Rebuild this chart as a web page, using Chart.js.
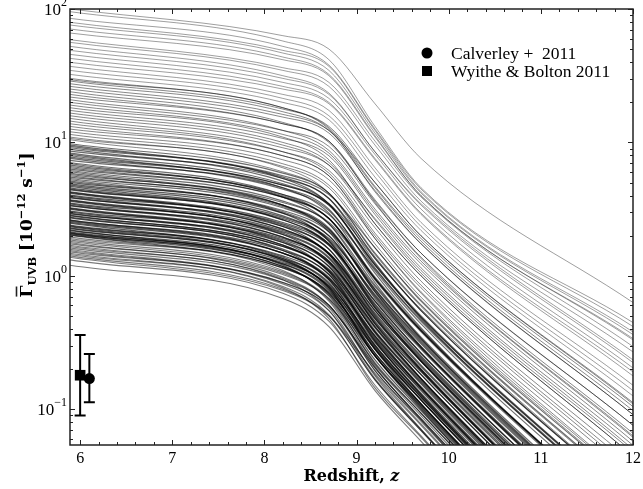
<!DOCTYPE html>
<html>
<head>
<meta charset="utf-8">
<script src="https://cdn.jsdelivr.net/npm/chart.js@4.4.0/dist/chart.umd.min.js"></script>
<style>
  html, body { margin: 0; padding: 0; background: #fff; }
  #wrap { width: 643px; height: 489px; }
</style>
</head>
<body>
<div id="wrap"><canvas id="gammaChart" width="643" height="489"></canvas></div>
<script>
// redshift knots shared by every model curve
var zKnots = [5.89, 8.2, 8.7, 9.2, 9.7, 12.0];

// log10 of Gamma_UVB [1e-12 s^-1] at the knots, one row per model
var logGammaTail = [
  [2.00, 1.80, 1.70, 1.29, 0.88, -0.20],
  [1.98, 1.76, 1.62, 1.12, 0.66, -0.35],
  [1.93, 1.72, 1.58, 1.10, 0.65, -0.38],
  [1.90, 1.69, 1.57, 1.09, 0.63, -0.42],
  [1.88, 1.67, 1.54, 1.07, 0.62, -0.44],
  [1.85, 1.64, 1.51, 1.05, 0.60, -0.47],
  [1.82, 1.62, 1.50, 1.04, 0.60, -0.48],
  [1.77, 1.56, 1.45, 1.01, 0.59, -0.53],
  [1.75, 1.54, 1.42, 0.98, 0.56, -0.57],
  [1.72, 1.50, 1.37, 0.93, 0.54, -0.63],
  [1.69, 1.48, 1.36, 0.93, 0.53, -0.65],
  [1.66, 1.45, 1.33, 0.91, 0.50, -0.69],
  [1.63, 1.42, 1.30, 0.88, 0.47, -0.72],
  [1.60, 1.40, 1.29, 0.87, 0.46, -0.75],
  [1.57, 1.36, 1.24, 0.81, 0.40, -0.82],
  [1.54, 1.33, 1.20, 0.78, 0.37, -0.86],
  [1.51, 1.30, 1.17, 0.74, 0.34, -0.90]
];
var logGammaUpper = [
  [1.48, 1.26, 1.11, 0.67, 0.28, -0.98],
  [1.47, 1.26, 1.10, 0.63, 0.24, -1.04],
  [1.46, 1.25, 1.12, 0.70, 0.30, -0.95],
  [1.44, 1.23, 1.09, 0.66, 0.26, -1.01],
  [1.42, 1.21, 1.09, 0.70, 0.30, -0.96],
  [1.40, 1.19, 1.07, 0.64, 0.24, -1.04],
  [1.38, 1.15, 1.00, 0.56, 0.17, -1.12],
  [1.36, 1.14, 1.01, 0.57, 0.17, -1.12],
  [1.34, 1.14, 1.01, 0.55, 0.13, -1.20],
  [1.32, 1.09, 0.94, 0.50, 0.11, -1.21],
  [1.30, 1.09, 0.97, 0.54, 0.14, -1.18],
  [1.28, 1.06, 0.92, 0.48, 0.09, -1.24],
  [1.26, 1.04, 0.87, 0.39, 0.00, -1.35],
  [1.24, 1.03, 0.90, 0.46, 0.06, -1.27],
  [1.22, 1.00, 0.85, 0.42, 0.02, -1.32],
  [1.20, 0.98, 0.83, 0.39, 0.00, -1.35],
  [1.18, 0.96, 0.83, 0.43, 0.04, -1.30],
  [1.16, 0.93, 0.77, 0.32, -0.07, -1.44],
  [1.14, 0.93, 0.79, 0.36, -0.04, -1.40],
  [1.12, 0.90, 0.75, 0.30, -0.09, -1.47],
  [1.10, 0.90, 0.75, 0.28, -0.13, -1.55],
  [1.08, 0.87, 0.72, 0.28, -0.12, -1.50],
  [1.06, 0.84, 0.68, 0.24, -0.16, -1.56],
  [1.04, 0.82, 0.66, 0.21, -0.18, -1.58],
  [1.03, 0.81, 0.62, 0.13, -0.25, -1.68],
  [1.02, 0.78, 0.62, 0.16, -0.23, -1.64]
];
var logGammaMid = [
  [0.99, 0.77, 0.62, 0.17, -0.22, -1.63],
  [0.98, 0.75, 0.61, 0.21, -0.19, -1.59],
  [0.97, 0.74, 0.58, 0.14, -0.26, -1.69],
  [0.96, 0.73, 0.54, 0.06, -0.33, -1.78],
  [0.95, 0.71, 0.54, 0.08, -0.31, -1.75],
  [0.935, 0.73, 0.58, 0.10, -0.32, -1.79],
  [0.92, 0.69, 0.53, 0.08, -0.31, -1.76],
  [0.91, 0.68, 0.54, 0.13, -0.26, -1.69],
  [0.90, 0.68, 0.53, 0.09, -0.30, -1.75],
  [0.89, 0.66, 0.47, -0.02, -0.41, -1.88],
  [0.88, 0.65, 0.49, 0.04, -0.36, -1.82],
  [0.865, 0.66, 0.50, 0.02, -0.39, -1.89],
  [0.85, 0.61, 0.43, -0.03, -0.42, -1.90],
  [0.84, 0.61, 0.46, 0.05, -0.34, -1.79],
  [0.83, 0.60, 0.43, -0.02, -0.41, -1.89],
  [0.82, 0.59, 0.39, -0.10, -0.48, -1.98],
  [0.81, 0.59, 0.43, -0.01, -0.40, -1.88],
  [0.80, 0.59, 0.43, -0.05, -0.47, -1.98],
  [0.79, 0.56, 0.39, -0.07, -0.46, -1.95],
  [0.78, 0.55, 0.40, -0.02, -0.41, -1.88],
  [0.77, 0.53, 0.35, -0.12, -0.51, -2.01],
  [0.76, 0.53, 0.33, -0.17, -0.55, -2.07],
  [0.75, 0.52, 0.35, -0.11, -0.50, -2.00],
  [0.74, 0.53, 0.36, -0.12, -0.53, -2.07],
  [0.73, 0.51, 0.34, -0.10, -0.49, -1.99],
  [0.72, 0.49, 0.33, -0.08, -0.47, -1.97],
  [0.71, 0.48, 0.30, -0.16, -0.54, -2.06]
];
var logGammaCore = [
  [0.70, 0.47, 0.26, -0.24, -0.62, -2.16],
  [0.69, 0.47, 0.30, -0.15, -0.54, -2.05],
  [0.68, 0.45, 0.27, -0.19, -0.58, -2.10],
  [0.67, 0.44, 0.28, -0.14, -0.53, -2.04],
  [0.66, 0.42, 0.23, -0.24, -0.63, -2.17],
  [0.65, 0.42, 0.24, -0.22, -0.61, -2.15],
  [0.645, 0.43, 0.26, -0.23, -0.64, -2.20],
  [0.63, 0.40, 0.24, -0.21, -0.60, -2.13],
  [0.625, 0.39, 0.23, -0.19, -0.58, -2.10],
  [0.62, 0.38, 0.20, -0.26, -0.64, -2.19],
  [0.605, 0.37, 0.16, -0.34, -0.72, -2.29],
  [0.60, 0.35, 0.16, -0.31, -0.70, -2.26],
  [0.59, 0.35, 0.17, -0.29, -0.68, -2.23],
  [0.585, 0.37, 0.20, -0.30, -0.70, -2.29],
  [0.57, 0.34, 0.17, -0.28, -0.67, -2.21],
  [0.565, 0.33, 0.17, -0.26, -0.64, -2.19],
  [0.56, 0.32, 0.14, -0.32, -0.71, -2.28],
  [0.545, 0.31, 0.09, -0.41, -0.79, -2.38],
  [0.54, 0.29, 0.10, -0.38, -0.77, -2.35],
  [0.53, 0.29, 0.11, -0.36, -0.74, -2.32],
  [0.525, 0.31, 0.13, -0.36, -0.77, -2.38],
  [0.51, 0.28, 0.11, -0.35, -0.74, -2.31],
  [0.505, 0.27, 0.10, -0.32, -0.71, -2.28],
  [0.50, 0.26, 0.07, -0.39, -0.78, -2.36],
  [0.485, 0.25, 0.03, -0.48, -0.85, -2.47],
  [0.48, 0.23, 0.03, -0.45, -0.84, -2.43],
  [0.47, 0.23, 0.04, -0.42, -0.81, -2.41],
  [0.465, 0.25, 0.07, -0.43, -0.84, -2.46],
  [0.455, 0.22, 0.05, -0.38, -0.77, -2.35],
  [0.45, 0.22, 0.04, -0.42, -0.80, -2.40],
  [0.44, 0.20, 0.01, -0.46, -0.84, -2.45],
  [0.435, 0.19, -0.03, -0.53, -0.91, -2.54],
  [0.42, 0.17, -0.03, -0.52, -0.90, -2.52],
  [0.415, 0.19, 0.01, -0.49, -0.89, -2.54],
  [0.41, 0.17, -0.02, -0.49, -0.88, -2.49],
  [0.40, 0.17, -0.01, -0.47, -0.86, -2.47],
  [0.395, 0.15, -0.02, -0.45, -0.83, -2.43],
  [0.38, 0.14, -0.06, -0.52, -0.91, -2.54],
  [0.375, 0.13, -0.09, -0.60, -0.97, -2.62],
  [0.37, 0.12, -0.09, -0.58, -0.96, -2.59],
  [0.36, 0.12, -0.08, -0.55, -0.93, -2.57],
  [0.355, 0.13, -0.05, -0.55, -0.96, -2.62],
  [0.345, 0.10, -0.07, -0.50, -0.89, -2.51],
  [0.34, 0.11, -0.08, -0.54, -0.93, -2.56],
  [0.33, 0.09, -0.11, -0.58, -0.96, -2.61],
  [0.325, 0.08, -0.15, -0.66, -1.03, -2.70],
  [0.32, 0.07, -0.14, -0.63, -1.01, -2.66],
  [0.315, 0.09, -0.10, -0.60, -1.00, -2.68],
  [0.31, 0.07, -0.13, -0.60, -0.99, -2.64],
  [0.305, 0.06, -0.12, -0.55, -0.93, -2.56]
];
var logGammaLow = [
  [0.29, 0.06, -0.13, -0.60, -0.98, -2.63],
  [0.28, 0.04, -0.19, -0.71, -1.08, -2.76],
  [0.27, 0.03, -0.17, -0.65, -1.03, -2.70],
  [0.26, 0.02, -0.17, -0.60, -0.98, -2.63],
  [0.25, -0.01, -0.22, -0.71, -1.09, -2.76],
  [0.24, 0.01, -0.18, -0.68, -1.08, -2.79],
  [0.23, -0.02, -0.22, -0.69, -1.07, -2.75],
  [0.22, -0.03, -0.26, -0.77, -1.15, -2.85],
  [0.21, -0.03, -0.22, -0.69, -1.07, -2.74],
  [0.20, -0.05, -0.23, -0.67, -1.05, -2.72],
  [0.19, -0.06, -0.26, -0.74, -1.12, -2.81],
  [0.18, -0.05, -0.24, -0.75, -1.15, -2.87],
  [0.17, -0.08, -0.29, -0.78, -1.16, -2.86],
  [0.16, -0.09, -0.32, -0.84, -1.21, -2.93],
  [0.15, -0.10, -0.30, -0.78, -1.16, -2.87],
  [0.14, -0.11, -0.30, -0.73, -1.11, -2.80],
  [0.12, -0.13, -0.34, -0.82, -1.20, -2.91],
  [0.08, -0.17, -0.38, -0.86, -1.24, -2.97]
];

// observational points (Gamma in 1e-12 s^-1)
var calverleyZ = [6.1];
var calverleyGamma = [0.17];
var calverleyLow = [0.113];
var calverleyHigh = [0.26];
var wyitheZ = [6.0];
var wyitheGamma = [0.18];
var wyitheLow = [0.09];
var wyitheHigh = [0.36];

// axis ticks
var xTickValues = [6, 7, 8, 9, 10, 11, 12];
var yTickValues = [0.1, 1, 10, 100];
var yTickExponents = ['\u22121', '0', '1', '2'];

var SERIF = '"Liberation Serif", "DejaVu Serif", serif';
var WIDE = '"DejaVu Serif", serif';

function curveDatasets(rows, color, width) {
    var sets = [];
    for (var i = 0; i < rows.length; i++) {
        var row = rows[i];
        sets.push({
            data: zKnots.map(function (z, k) { return { x: z, y: Math.pow(10, row[k]) }; }),
            borderColor: color,
            borderWidth: width,
            pointRadius: 0,
            fill: false,
            cubicInterpolationMode: 'monotone',
            order: 2
        });
    }
    return sets;
}

function pointSet(zs, gs, style, radius) {
    return {
        data: zs.map(function (z, i) { return { x: z, y: gs[i] }; }),
        showLine: false,
        pointStyle: style,
        pointRadius: radius,
        backgroundColor: '#000',
        borderColor: '#000',
        borderWidth: 0,
        order: 0
    };
}

var datasets = [
    pointSet(calverleyZ, calverleyGamma, 'circle', 5.5),
    pointSet(wyitheZ, wyitheGamma, 'rect', 7.5)
]
    .concat(curveDatasets(logGammaTail, 'rgba(0,0,0,0.38)', 1))
    .concat(curveDatasets(logGammaUpper, 'rgba(0,0,0,0.47)', 1))
    .concat(curveDatasets(logGammaMid, 'rgba(0,0,0,0.58)', 1.15))
    .concat(curveDatasets(logGammaCore, 'rgba(0,0,0,0.64)', 1.25))
    .concat(curveDatasets(logGammaLow, 'rgba(0,0,0,0.52)', 1.1));

// draws a run of text pieces with their own font and vertical shift
function drawParts(ctx, parts, x, y) {
    var total = 0;
    parts.forEach(function (p) { ctx.font = p.font; p.w = ctx.measureText(p.text).width; total += p.w; });
    var cx = x - total / 2;
    parts.forEach(function (p) {
        ctx.font = p.font;
        ctx.fillText(p.text, cx, y + (p.dy || 0));
        p.x = cx;
        cx += p.w;
    });
    return parts;
}

var errorBarPlugin = {
    id: 'errorBars',
    afterDatasetsDraw: function (chart) {
        var ctx = chart.ctx, xs = chart.scales.x, ys = chart.scales.y;
        function bars(zs, lo, hi) {
            for (var i = 0; i < zs.length; i++) {
                var px = xs.getPixelForValue(zs[i]);
                var y1 = ys.getPixelForValue(lo[i]), y2 = ys.getPixelForValue(hi[i]);
                ctx.beginPath();
                ctx.moveTo(px, y1); ctx.lineTo(px, y2);
                ctx.moveTo(px - 5.5, y1); ctx.lineTo(px + 5.5, y1);
                ctx.moveTo(px - 5.5, y2); ctx.lineTo(px + 5.5, y2);
                ctx.stroke();
            }
        }
        ctx.save();
        ctx.strokeStyle = '#000';
        ctx.lineWidth = 2;
        bars(wyitheZ, wyitheLow, wyitheHigh);
        bars(calverleyZ, calverleyLow, calverleyHigh);
        ctx.restore();
    }
};

var axisFramePlugin = {
    id: 'axisFrame',
    afterDraw: function (chart) {
        var ctx = chart.ctx, a = chart.chartArea, xs = chart.scales.x, ys = chart.scales.y;
        ctx.save();
        ctx.strokeStyle = '#222';
        ctx.lineWidth = 1;

        // x ticks, every 0.2 with majors on integers, bottom and top
        ctx.beginPath();
        for (var k = 0; k <= 30; k++) {
            var v = 6 + k * 0.2;
            var px = Math.round(xs.getPixelForValue(v)) + 0.5;
            var len = (k % 5 === 0) ? 5 : 3;
            ctx.moveTo(px, a.bottom); ctx.lineTo(px, a.bottom - len);
            ctx.moveTo(px, a.top); ctx.lineTo(px, a.top + len);
        }
        // y ticks, decades and 2..9 minors, left and right
        [0.01, 0.1, 1, 10].forEach(function (dec) {
            for (var m = 1; m <= 10; m++) {
                var val = dec * m;
                if (val < ys.min || val > ys.max) continue;
                var py = Math.round(ys.getPixelForValue(val)) + 0.5;
                var l = (m === 1 || m === 10) ? 5 : 3;
                ctx.moveTo(a.left, py); ctx.lineTo(a.left + l, py);
                ctx.moveTo(a.right, py); ctx.lineTo(a.right - l, py);
            }
        });
        ctx.stroke();

        ctx.lineWidth = 1.5;
        ctx.strokeRect(a.left, a.top, a.right - a.left, a.bottom - a.top);

        ctx.fillStyle = '#000';
        ctx.textBaseline = 'alphabetic';

        // x tick labels
        ctx.font = '16px ' + SERIF;
        ctx.textAlign = 'center';
        xTickValues.forEach(function (v) {
            ctx.fillText(String(v), xs.getPixelForValue(v), a.bottom + 18);
        });

        // y tick labels as 10 with a raised exponent
        ctx.textAlign = 'left';
        yTickValues.forEach(function (v, i) {
            var py = ys.getPixelForValue(v);
            ctx.font = '12px ' + SERIF;
            var we = ctx.measureText(yTickExponents[i]).width;
            ctx.font = '17px ' + SERIF;
            var wb = ctx.measureText('10').width;
            var right = a.left - 3;
            ctx.fillText('10', right - we - wb, py + 6);
            ctx.font = '12px ' + SERIF;
            ctx.fillText(yTickExponents[i], right - we, py - 3);
        });

        // x title
        drawParts(ctx, [
            { text: 'Redshift, ', font: 'bold 16px ' + WIDE },
            { text: 'z', font: 'bold italic 16px ' + WIDE }
        ], (a.left + a.right) / 2, 481);

        // y title, rotated
        ctx.save();
        ctx.translate(32, 225);
        ctx.rotate(-Math.PI / 2);
        var big = 'bold 17px ' + WIDE, small = 'bold 11.5px ' + WIDE;
        var parts = drawParts(ctx, [
            { text: '\u0393', font: big },
            { text: 'UVB', font: small, dy: 4 },
            { text: ' [10', font: big },
            { text: '\u221212', font: small, dy: -7 },
            { text: ' s', font: big },
            { text: '\u22121', font: small, dy: -7 },
            { text: ']', font: big }
        ], 0, 0);
        ctx.lineWidth = 1.6;
        ctx.beginPath();
        ctx.moveTo(parts[0].x + 1, -15.5);
        ctx.lineTo(parts[0].x + parts[0].w - 1, -15.5);
        ctx.stroke();
        ctx.restore();

        // legend
        var lx = a.right - 206, ly = a.top + 44;
        ctx.beginPath();
        ctx.arc(lx, ly, 5.5, 0, Math.PI * 2);
        ctx.fill();
        ctx.fillRect(lx - 5, ly + 13, 10, 10);
        ctx.font = '17.5px ' + SERIF;
        ctx.textAlign = 'left';
        ctx.fillText('Calverley +  2011', lx + 24, ly + 6);
        ctx.fillText('Wyithe & Bolton 2011', lx + 24, ly + 24);
        ctx.restore();
    }
};

new Chart(document.getElementById('gammaChart'), {
    type: 'line',
    data: { datasets: datasets },
    options: {
        responsive: false,
        animation: false,
        devicePixelRatio: 1,
        layout: { padding: { left: 70, top: 9, right: 10, bottom: 44 } },
        scales: {
            x: { type: 'linear', min: 5.89, max: 12, display: false },
            y: { type: 'logarithmic', min: 0.054, max: 100, display: false }
        },
        plugins: {
            legend: { display: false },
            tooltip: { enabled: false }
        }
    },
    plugins: [errorBarPlugin, axisFramePlugin]
});
</script>
</body>
</html>
